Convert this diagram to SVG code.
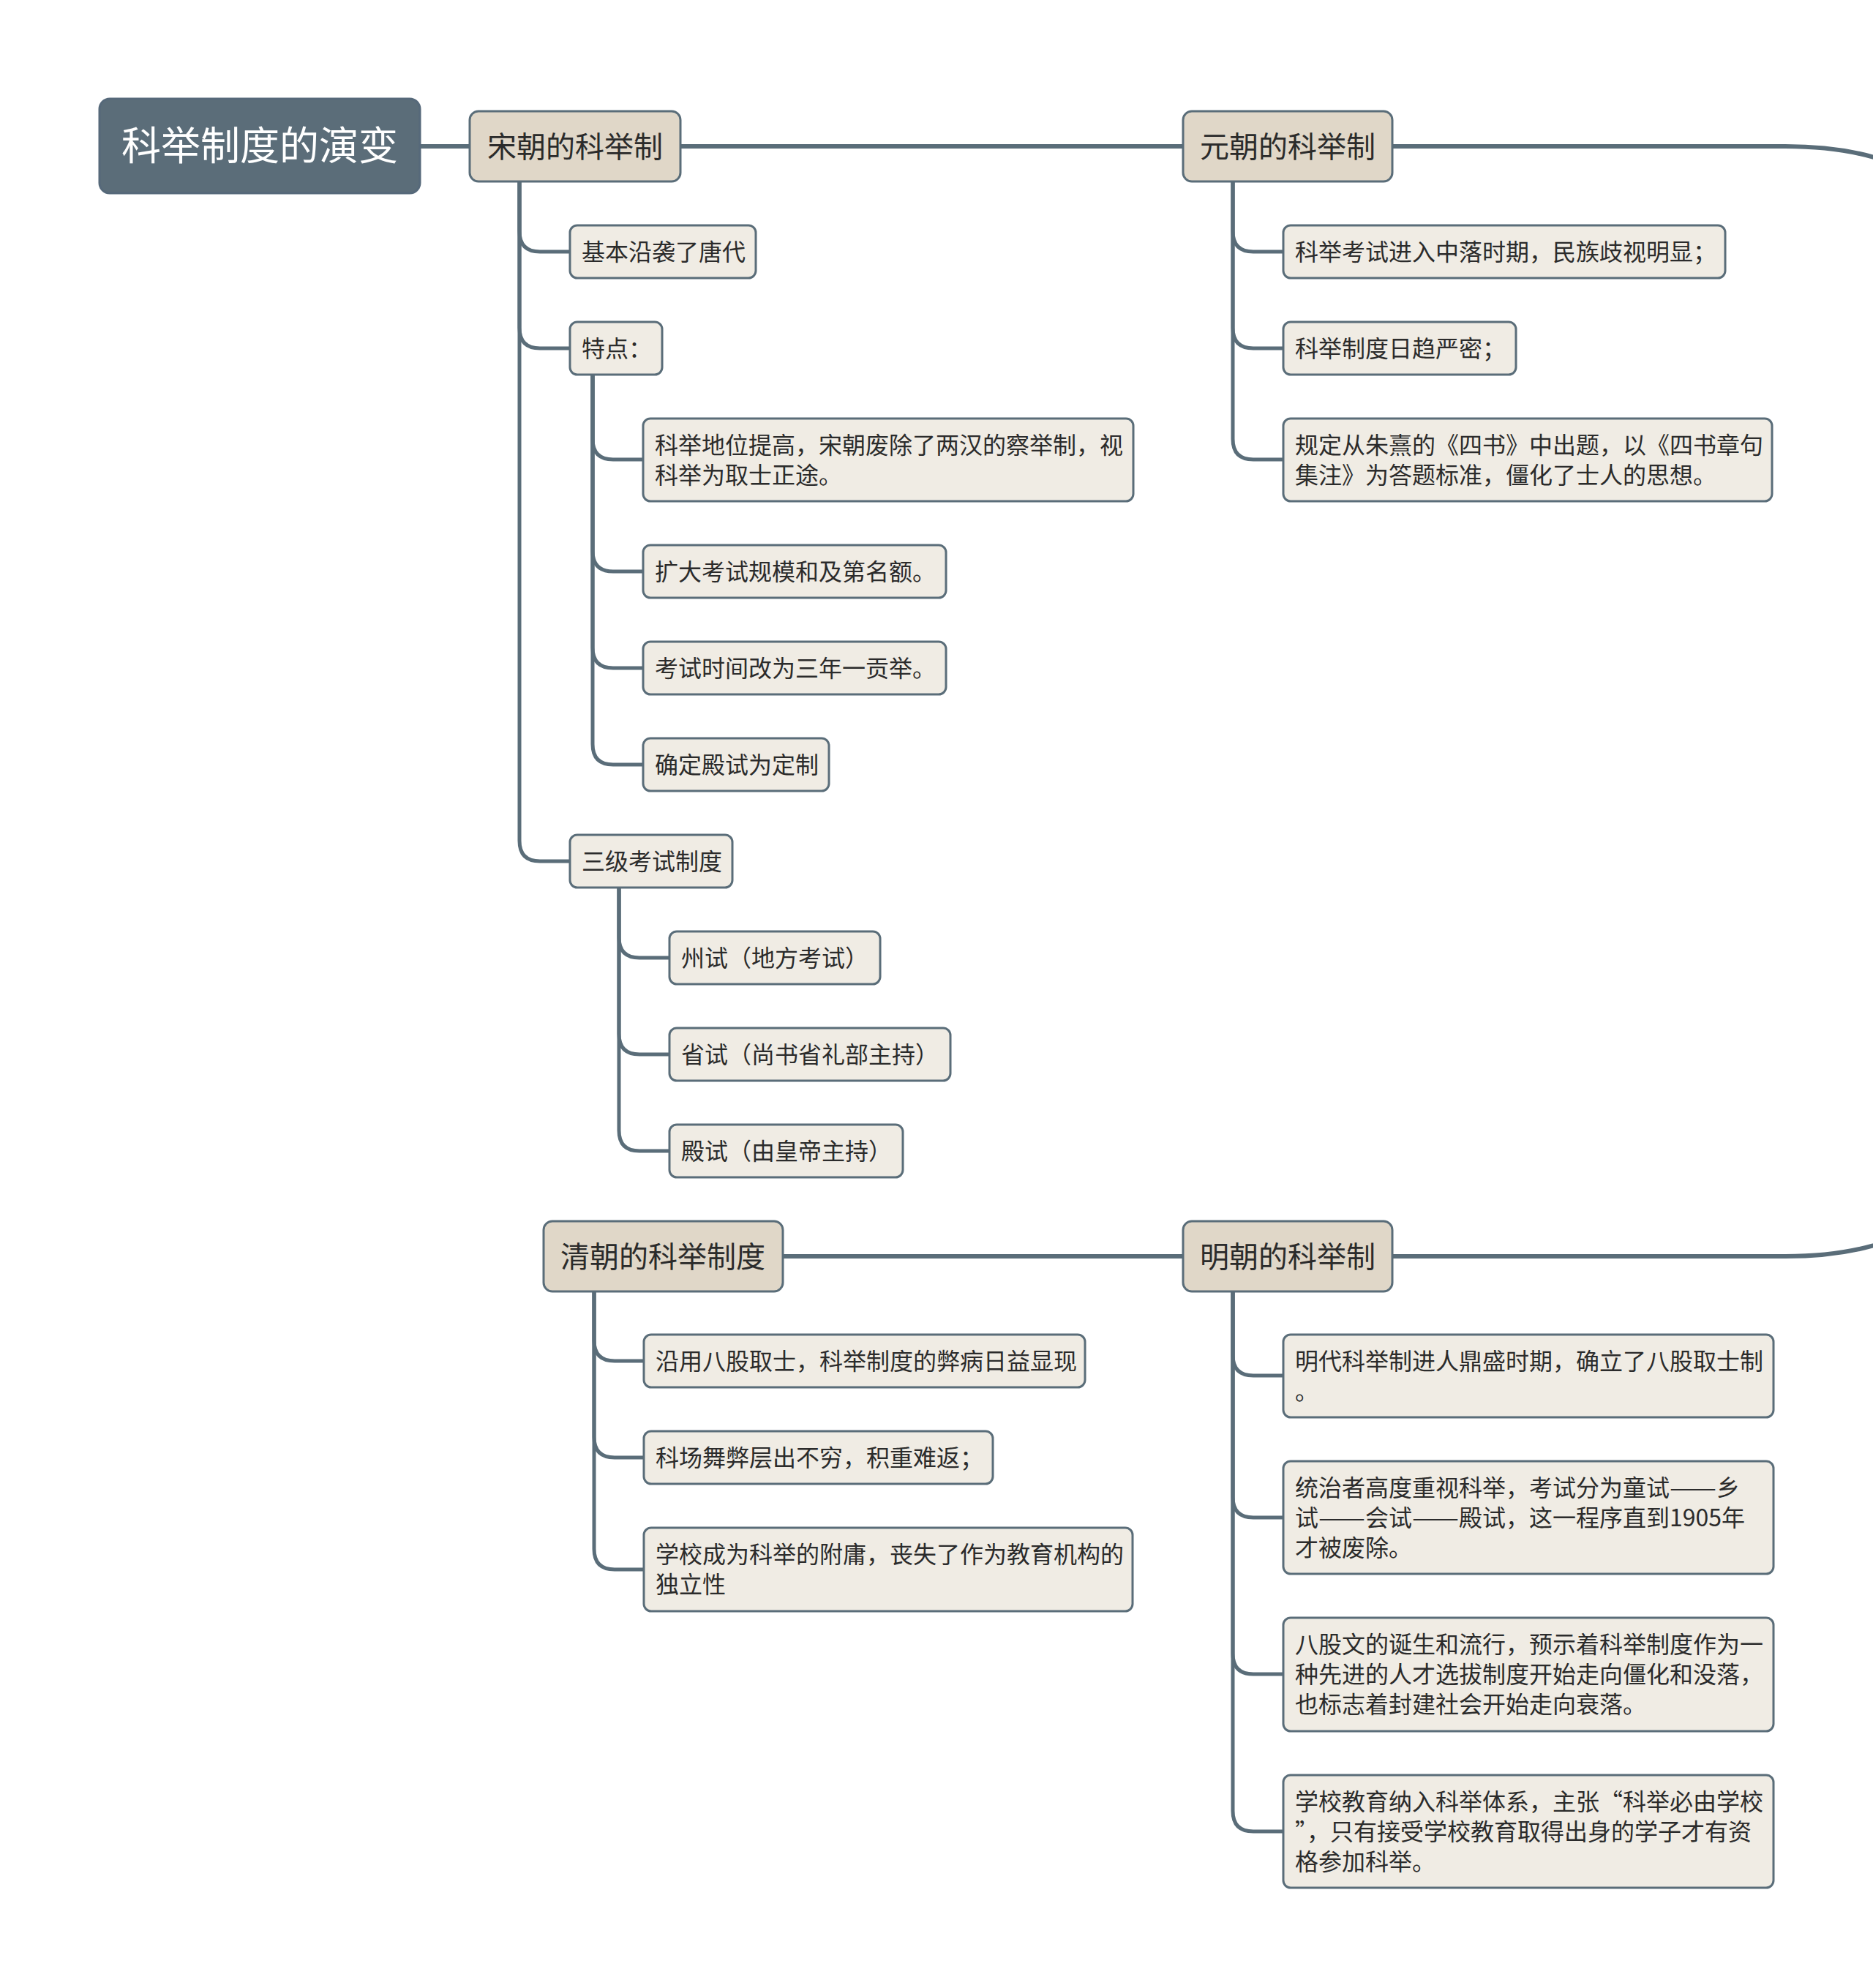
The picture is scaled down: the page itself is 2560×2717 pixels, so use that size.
<svg xmlns="http://www.w3.org/2000/svg" width="2560" height="2717" viewBox="0 0 2560 2717">
<style>
text{font-family:"Noto Sans CJK SC","Noto Sans",sans-serif;fill:#2b2b2b}
.root rect{fill:#5b6d79;stroke:#56697a;stroke-width:3}
.root text{fill:#ffffff;font-size:54px}
.l1 rect{fill:#e0d7c8;stroke:#5a6d79;stroke-width:3}
.l1 text{font-size:40px}
.leaf rect{fill:#f0ece4;stroke:#5a6d79;stroke-width:3}
.leaf text{font-size:32px}
.main{fill:none;stroke:#5a6d79;stroke-width:6}
.br{fill:none;stroke:#5a6d79;stroke-width:5}
</style>
<rect width="2560" height="2717" fill="#ffffff"/>
<g id="connectors">
<path class="main" d="M574 200 H642"/>
<path class="main" d="M930 200 H1617"/>
<path class="main" d="M1903 200 H2440 C2540 200 2640 225 2680 300 V1617 C2640 1692 2540 1717 2440 1717 H1903"/>
<path class="main" d="M1070 1717 H1617"/>
<path class="br" d="M710 248 V316 Q710 344 738 344 H779"/>
<path class="br" d="M710 248 V448 Q710 476 738 476 H779"/>
<path class="br" d="M710 248 V1149 Q710 1177 738 1177 H779"/>
<path class="br" d="M810 512 V600 Q810 628 838 628 H879"/>
<path class="br" d="M810 512 V753 Q810 781 838 781 H879"/>
<path class="br" d="M810 512 V885 Q810 913 838 913 H879"/>
<path class="br" d="M810 512 V1017 Q810 1045 838 1045 H879"/>
<path class="br" d="M846 1213 V1281 Q846 1309 874 1309 H915"/>
<path class="br" d="M846 1213 V1413 Q846 1441 874 1441 H915"/>
<path class="br" d="M846 1213 V1545 Q846 1573 874 1573 H915"/>
<path class="br" d="M1685 248 V316 Q1685 344 1713 344 H1754"/>
<path class="br" d="M1685 248 V448 Q1685 476 1713 476 H1754"/>
<path class="br" d="M1685 248 V600 Q1685 628 1713 628 H1754"/>
<path class="br" d="M812 1765 V1832 Q812 1860 840 1860 H880"/>
<path class="br" d="M812 1765 V1964 Q812 1992 840 1992 H880"/>
<path class="br" d="M812 1765 V2117 Q812 2145 840 2145 H880"/>
<path class="br" d="M1685 1765 V1852 Q1685 1880 1713 1880 H1754"/>
<path class="br" d="M1685 1765 V2046 Q1685 2074 1713 2074 H1754"/>
<path class="br" d="M1685 1765 V2260 Q1685 2288 1713 2288 H1754"/>
<path class="br" d="M1685 1765 V2475 Q1685 2503 1713 2503 H1754"/>
</g>
<g id="root" class="root"><rect x="136" y="135" width="438" height="129" rx="14"/><text x="355" y="219" text-anchor="middle">科举制度的演变</text></g>
<g id="song" class="l1"><rect x="642" y="152" width="288" height="96" rx="12"/><text x="666" y="215">宋朝的科举制</text></g>
<g id="yuan" class="l1"><rect x="1617" y="152" width="286" height="96" rx="12"/><text x="1640" y="215">元朝的科举制</text></g>
<g id="ming" class="l1"><rect x="1617" y="1669" width="286" height="96" rx="12"/><text x="1640" y="1732">明朝的科举制</text></g>
<g id="qing" class="l1"><rect x="743" y="1669" width="327" height="96" rx="12"/><text x="766" y="1732">清朝的科举制度</text></g>
<g id="a1" class="leaf"><rect x="779" y="308" width="254" height="72" rx="10"/><text x="795" y="356">基本沿袭了唐代</text></g>
<g id="a2" class="leaf"><rect x="779" y="440" width="126" height="72" rx="10"/><text x="795" y="488">特点：</text></g>
<g id="b1" class="leaf"><rect x="879" y="572" width="670" height="113" rx="10"/><text x="895" y="620">科举地位提高，宋朝废除了两汉的察举制，视</text><text x="895" y="661">科举为取士正途。</text></g>
<g id="b2" class="leaf"><rect x="879" y="745" width="414" height="72" rx="10"/><text x="895" y="793">扩大考试规模和及第名额。</text></g>
<g id="b3" class="leaf"><rect x="879" y="877" width="414" height="72" rx="10"/><text x="895" y="925">考试时间改为三年一贡举。</text></g>
<g id="b4" class="leaf"><rect x="879" y="1009" width="254" height="72" rx="10"/><text x="895" y="1057">确定殿试为定制</text></g>
<g id="a3" class="leaf"><rect x="779" y="1141" width="222" height="72" rx="10"/><text x="795" y="1189">三级考试制度</text></g>
<g id="c1" class="leaf"><rect x="915" y="1273" width="288" height="72" rx="10"/><text x="931" y="1321">州试（地方考试）</text></g>
<g id="c2" class="leaf"><rect x="915" y="1405" width="384" height="72" rx="10"/><text x="931" y="1453">省试（尚书省礼部主持）</text></g>
<g id="c3" class="leaf"><rect x="915" y="1537" width="319" height="72" rx="10"/><text x="931" y="1585">殿试（由皇帝主持）</text></g>
<g id="y1" class="leaf"><rect x="1754" y="308" width="604" height="72" rx="10"/><text x="1770" y="356">科举考试进入中落时期，民族歧视明显；</text></g>
<g id="y2" class="leaf"><rect x="1754" y="440" width="318" height="72" rx="10"/><text x="1770" y="488">科举制度日趋严密；</text></g>
<g id="y3" class="leaf"><rect x="1754" y="572" width="668" height="113" rx="10"/><text x="1770" y="620">规定从朱熹的《四书》中出题，以《四书章句</text><text x="1770" y="661">集注》为答题标准，僵化了士人的思想。</text></g>
<g id="q1" class="leaf"><rect x="880" y="1824" width="603" height="72" rx="10"/><text x="896" y="1872">沿用八股取士，科举制度的弊病日益显现</text></g>
<g id="q2" class="leaf"><rect x="880" y="1956" width="477" height="72" rx="10"/><text x="896" y="2004">科场舞弊层出不穷，积重难返；</text></g>
<g id="q3" class="leaf"><rect x="880" y="2088" width="668" height="114" rx="10"/><text x="896" y="2136">学校成为科举的附庸，丧失了作为教育机构的</text><text x="896" y="2177">独立性</text></g>
<g id="m1" class="leaf"><rect x="1754" y="1824" width="670" height="113" rx="10"/><text x="1770" y="1872">明代科举制进人鼎盛时期，确立了八股取士制</text><text x="1770" y="1913">。</text></g>
<g id="m2" class="leaf"><rect x="1754" y="1997" width="670" height="154" rx="10"/><text x="1770" y="2045">统治者高度重视科举，考试分为童试<tspan textLength="64" lengthAdjust="spacingAndGlyphs">——</tspan>乡</text><text x="1770" y="2086">试<tspan textLength="64" lengthAdjust="spacingAndGlyphs">——</tspan>会试<tspan textLength="64" lengthAdjust="spacingAndGlyphs">——</tspan>殿试，这一程序直到1905年</text><text x="1770" y="2127">才被废除。</text></g>
<g id="m3" class="leaf"><rect x="1754" y="2211" width="670" height="155" rx="10"/><text x="1770" y="2259">八股文的诞生和流行，预示着科举制度作为一</text><text x="1770" y="2300">种先进的人才选拔制度开始走向僵化和没落，</text><text x="1770" y="2341">也标志着封建社会开始走向衰落。</text></g>
<g id="m4" class="leaf"><rect x="1754" y="2426" width="670" height="154" rx="10"/><text x="1770" y="2474">学校教育纳入科举体系，主张“科举必由学校</text><text x="1770" y="2515">”，只有接受学校教育取得出身的学子才有资</text><text x="1770" y="2556">格参加科举。</text></g>
</svg>
